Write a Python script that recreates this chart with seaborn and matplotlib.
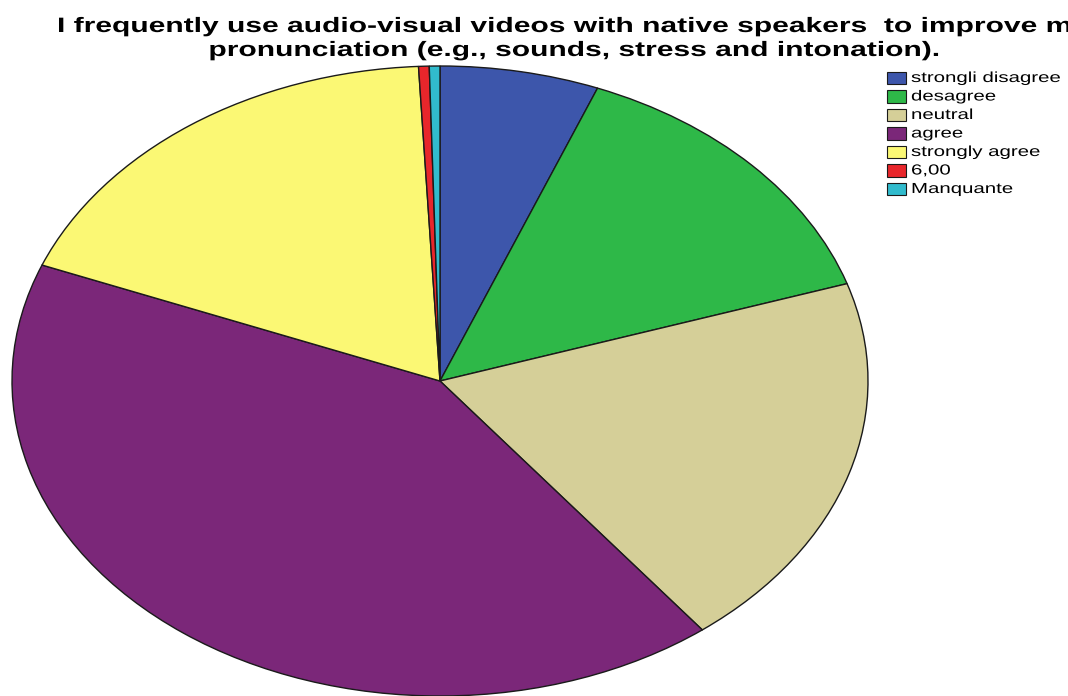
import matplotlib
matplotlib.use("Agg")
import matplotlib.pyplot as plt
import seaborn as sns
from matplotlib.patches import Rectangle
from matplotlib.patheffects import AbstractPathEffect
from matplotlib.transforms import Affine2D

# Responses (percent of respondents)
categories = ["strongli disagree", "desagree", "neutral", "agree",
              "strongly agree", "6,00", "Manquante"]
shares = [6.0, 14.0, 19.5, 41.5, 18.2, 0.4, 0.4]
palette = ["#3d56ab", "#2eb848", "#d5cf98", "#7b2779",
           "#fbf874", "#e8262b", "#31bbcd"]

title_line1 = "I frequently use audio-visual videos with native speakers  to improve my"
title_line2 = "pronunciation (e.g., sounds, stress and intonation)."


class HStretch(AbstractPathEffect):
    """Widen glyph outlines horizontally (the chart's text is set extended)."""

    def __init__(self, sx, anchor="left"):
        super().__init__()
        self.sx = sx
        self.anchor = anchor

    def draw_path(self, renderer, gc, tpath, affine, rgbFace=None):
        if self.anchor == "center":
            bb = tpath.get_extents(affine)
            x0 = 0.5 * (bb.x0 + bb.x1)
        else:
            x0 = affine.transform((0, 0))[0]
        t = (Affine2D(affine.get_matrix())
             .translate(-x0, 0).scale(self.sx, 1.0).translate(x0, 0))
        renderer.draw_path(gc, tpath, t, rgbFace)


sns.set_theme(style="white")
plt.rcParams["font.family"] = ["Liberation Sans", "DejaVu Sans"]

W, H = 1068, 696
fig = plt.figure(figsize=(W / 100, H / 100), dpi=100)
fig.patch.set_facecolor("white")


def fx(px):
    return px / W


def fy(py):
    return 1 - py / H


# Elliptical pie: spans x 12..868 and y 66..696 (pixels, top origin)
ax = fig.add_axes([fx(12), 0.0, (868 - 12) / W, (696 - 66) / H])
colors = sns.color_palette(palette)
wedges, _ = ax.pie(
    shares,
    colors=colors,
    startangle=90,
    counterclock=False,
    radius=1.0,
    wedgeprops=dict(edgecolor="#1a1a1a", linewidth=1.0),
)
for w in wedges:
    w.set_clip_on(False)
ax.set_aspect("auto")
ax.set_xlim(-1, 1)
ax.set_ylim(-1, 1)
ax.axis("off")

# Two-line title, centred, running off the right edge
for line, base in ((title_line1, 32), (title_line2, 56)):
    fig.text(fx(575), fy(base), line, ha="center", va="baseline",
             fontsize=15, fontweight="bold", color="black",
             path_effects=[HStretch(1.44, "center")])

# Legend: swatch + label per category
row0, step = 78.0, 18.5
for i, (lab, c) in enumerate(zip(categories, colors)):
    yc = row0 + step * i
    fig.add_artist(Rectangle((fx(887), fy(yc + 6)), 19 / W, 12 / H,
                             transform=fig.transFigure, facecolor=c,
                             edgecolor="#1a1a1a", linewidth=0.8))
    fig.text(fx(911), fy(yc), lab, ha="left", va="center",
             fontsize=10.5, color="black",
             path_effects=[HStretch(1.40, "left")])

fig.savefig("out.png", dpi=100, facecolor="white")
